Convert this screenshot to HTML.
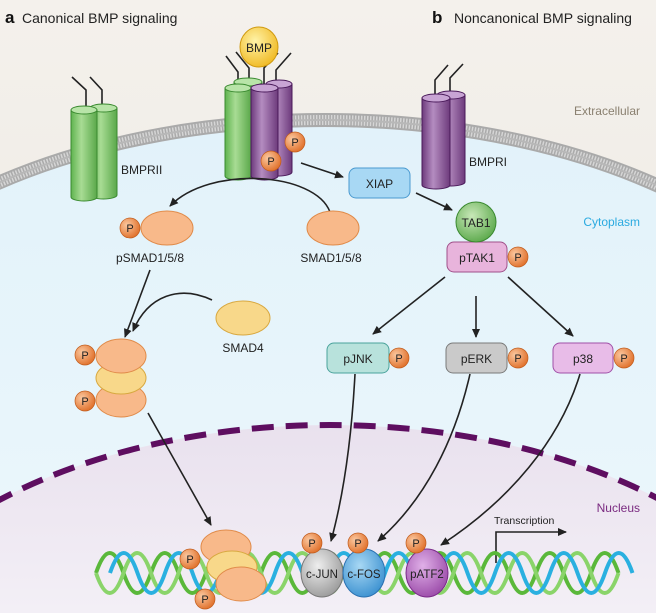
<!DOCTYPE html>
<html><head><meta charset="utf-8"><style>
html,body{margin:0;padding:0;background:#fff;width:656px;height:613px;overflow:hidden}
svg{display:block}
text{font-family:"Liberation Sans",sans-serif}
</style></head><body>
<svg width="656" height="613" viewBox="0 0 656 613" xmlns="http://www.w3.org/2000/svg">
<defs>
<clipPath id="cl"><rect width="656" height="613"/></clipPath>
<linearGradient id="bg" x1="0" y1="0" x2="0" y2="1"><stop offset="0" stop-color="#f4f1ec"/><stop offset="1" stop-color="#ebe6df"/></linearGradient>
<linearGradient id="cyto" x1="0" y1="0" x2="0" y2="1"><stop offset="0" stop-color="#e2f2fa"/><stop offset="1" stop-color="#eef8fc"/></linearGradient>
<linearGradient id="nuc" x1="0" y1="0" x2="0" y2="1"><stop offset="0" stop-color="#e9e1ee"/><stop offset=".55" stop-color="#fbfafc"/><stop offset="1" stop-color="#ffffff"/></linearGradient>
<linearGradient id="gc" x1="0" x2="1"><stop offset="0" stop-color="#5fb34f"/><stop offset=".4" stop-color="#a8dc94"/><stop offset="1" stop-color="#5aa84a"/></linearGradient>
<linearGradient id="pc" x1="0" x2="1"><stop offset="0" stop-color="#6d3a7c"/><stop offset=".4" stop-color="#b48cc0"/><stop offset="1" stop-color="#6d3a7c"/></linearGradient>
<radialGradient id="pp" cx=".35" cy=".35" r=".7"><stop offset="0" stop-color="#fbc8a0"/><stop offset="1" stop-color="#e0702a"/></radialGradient>
<radialGradient id="bmp" cx=".4" cy=".35" r=".7"><stop offset="0" stop-color="#fff3a8"/><stop offset="1" stop-color="#f0b820"/></radialGradient>
<radialGradient id="tab" cx=".4" cy=".35" r=".7"><stop offset="0" stop-color="#c8e8b8"/><stop offset="1" stop-color="#5aa84a"/></radialGradient>
<radialGradient id="gry" cx=".4" cy=".35" r=".7"><stop offset="0" stop-color="#eee"/><stop offset="1" stop-color="#999"/></radialGradient>
<radialGradient id="blu" cx=".4" cy=".35" r=".7"><stop offset="0" stop-color="#a8d8f4"/><stop offset="1" stop-color="#3a90d0"/></radialGradient>
<radialGradient id="pur" cx=".4" cy=".35" r=".7"><stop offset="0" stop-color="#e0b0e8"/><stop offset="1" stop-color="#9a4aa8"/></radialGradient>
<marker id="ar" markerWidth="10" markerHeight="10" refX="8" refY="5" orient="auto" markerUnits="userSpaceOnUse"><path d="M0,1 L9,5 L0,9 Z" fill="#222"/></marker>
</defs>
<g clip-path="url(#cl)">
<rect width="656" height="613" fill="url(#bg)"/>
<ellipse cx="325" cy="420" rx="533" ry="300" fill="url(#cyto)"/>
<ellipse cx="325" cy="420" rx="533" ry="300" fill="none" stroke="#aaa" stroke-width="14"/>
<ellipse cx="325" cy="420" rx="533" ry="300" fill="none" stroke="#d6d6d6" stroke-width="10" stroke-dasharray="1.5 1.5"/>
<ellipse cx="325" cy="420" rx="533" ry="300" fill="none" stroke="#b8b8b8" stroke-width="2"/>
<ellipse cx="330" cy="725" rx="500" ry="300" fill="url(#nuc)"/>
<ellipse cx="330" cy="725" rx="500" ry="300" fill="none" stroke="#5e0e60" stroke-width="6" stroke-dasharray="22 12"/>

<text x="5" y="23" font-size="17" font-weight="bold" fill="#111">a</text>
<text x="22" y="23" font-size="14" fill="#222">Canonical BMP signaling</text>
<text x="432" y="23" font-size="17" font-weight="bold" fill="#111">b</text>
<text x="454" y="23" font-size="14" fill="#222">Noncanonical BMP signaling</text>
<text x="640" y="115" font-size="12" fill="#8a8070" text-anchor="end">Extracellular</text>
<text x="640" y="226" font-size="12" fill="#2aaae0" text-anchor="end">Cytoplasm</text>
<text x="640" y="512" font-size="12" fill="#7a2a80" text-anchor="end">Nucleus</text>

<g fill="none" stroke="#222" stroke-width="1.6">
<path d="M86,108 V90 L72,77"/><path d="M102,108 V90 L90,77"/>
<path d="M238,88 V72 L226,56"/><path d="M249,82 V68 L236,52"/>
<path d="M264,88 V68 L278,53"/><path d="M276,85 V70 L291,53"/>
<path d="M435,97 V80 L448,65"/><path d="M450,93 V78 L463,64"/>
</g>
<g stroke="#3a8a30" stroke-width="1">
<path d="M90,108 V195 A13.5,4 0 0 0 117,195 V108 Z" fill="url(#gc)"/><ellipse cx="103.5" cy="108" rx="13.5" ry="4" fill="#b8e4a8"/>
<path d="M71,110 V197 A13,4 0 0 0 97,197 V110 Z" fill="url(#gc)"/><ellipse cx="84" cy="110" rx="13" ry="4" fill="#b8e4a8"/>
<path d="M234,82 V170 A14,4 0 0 0 262,170 V82 Z" fill="url(#gc)"/><ellipse cx="248" cy="82" rx="14" ry="4" fill="#b8e4a8"/>
<path d="M225,88 V176 A13,4 0 0 0 251,176 V88 Z" fill="url(#gc)"/><ellipse cx="238" cy="88" rx="13" ry="4" fill="#b8e4a8"/>
</g>
<g stroke="#4a1a5a" stroke-width="1">
<path d="M266,84 V172 A13,4 0 0 0 292,172 V84 Z" fill="url(#pc)"/><ellipse cx="279" cy="84" rx="13" ry="4" fill="#c8a4d4"/>
<path d="M251,88 V176 A13.5,4 0 0 0 278,176 V88 Z" fill="url(#pc)"/><ellipse cx="264.5" cy="88" rx="13.5" ry="4" fill="#c8a4d4"/>
<path d="M437,95 V182 A14,4 0 0 0 465,182 V95 Z" fill="url(#pc)"/><ellipse cx="451" cy="95" rx="14" ry="4" fill="#c8a4d4"/>
<path d="M422,98 V185 A14,4 0 0 0 450,185 V98 Z" fill="url(#pc)"/><ellipse cx="436" cy="98" rx="14" ry="4" fill="#c8a4d4"/>
</g>
<ellipse cx="259" cy="47" rx="19" ry="20" fill="url(#bmp)" stroke="#d09a10"/>
<text x="259" y="52" font-size="12" text-anchor="middle" fill="#222">BMP</text>
<text x="121" y="174" font-size="12" fill="#222">BMPRII</text>
<text x="469" y="166" font-size="12" fill="#222">BMPRI</text>

<g font-size="11" text-anchor="middle" fill="#222">
<circle cx="295" cy="142" r="10" fill="url(#pp)" stroke="#c05a1a" stroke-width=".7"/><text x="295" y="146">P</text>
<circle cx="271" cy="161" r="10" fill="url(#pp)" stroke="#c05a1a" stroke-width=".7"/><text x="271" y="165">P</text>
</g>

<rect x="349" y="168" width="61" height="30" rx="7" fill="#a8d8f4" stroke="#4a9ad0"/>
<text x="379.5" y="188" font-size="12" text-anchor="middle" fill="#222">XIAP</text>
<g stroke="#222" stroke-width="1.6" fill="none" marker-end="url(#ar)">
<path d="M301,163 L343,177"/>
<path d="M416,193 L452,210"/>
<path d="M330,212 C315,172 210,165 170,206"/>
<path d="M445,277 L373,334"/>
<path d="M476,296 L476,337"/>
<path d="M508,277 L573,336"/>
<path d="M212,300 C180,285 148,295 133,331"/>
<path d="M150,270 L125,337"/>
<path d="M148,413 L211,525"/>
<path d="M355,374 C352,430 345,490 331,541"/>
<path d="M470,374 C455,440 425,500 378,541"/>
<path d="M580,374 C560,440 510,500 441,545"/>
<path d="M496,563 V532 H566"/>
</g>
<text x="494" y="524" font-size="10.5" fill="#222">Transcription</text>

<rect x="447" y="242" width="60" height="30" rx="7" fill="#e8b4dc" stroke="#a0508a"/>
<text x="477" y="262" font-size="12" text-anchor="middle" fill="#222">pTAK1</text>
<ellipse cx="476" cy="222" rx="20" ry="20" fill="url(#tab)" stroke="#3a8a30"/>
<text x="476" y="227" font-size="12" text-anchor="middle" fill="#222">TAB1</text>

<rect x="327" y="343" width="62" height="30" rx="7" fill="#b8e2dc" stroke="#4aa39c"/>
<text x="358" y="363" font-size="12" text-anchor="middle" fill="#222">pJNK</text>
<rect x="446" y="343" width="61" height="30" rx="7" fill="#cacaca" stroke="#7a7a7a"/>
<text x="476.5" y="363" font-size="12" text-anchor="middle" fill="#222">pERK</text>
<rect x="553" y="343" width="60" height="30" rx="7" fill="#e8bce8" stroke="#a050a8"/>
<text x="583" y="363" font-size="12" text-anchor="middle" fill="#222">p38</text>

<g stroke="#e08a48" stroke-width="1">
<ellipse cx="167" cy="228" rx="26" ry="17" fill="#f8b98a"/>
<ellipse cx="333" cy="228" rx="26" ry="17" fill="#f8b98a"/>
<ellipse cx="243" cy="318" rx="27" ry="17" fill="#f8d88a" stroke="#d8a840"/>
<ellipse cx="121" cy="400" rx="25" ry="17" fill="#f8b98a"/>
<ellipse cx="121" cy="378" rx="25" ry="16" fill="#f8d88a" stroke="#d8a840"/>
<ellipse cx="121" cy="356" rx="25" ry="17" fill="#f8b98a"/>
</g>
<g font-size="12" text-anchor="middle" fill="#222">
<text x="150" y="262">pSMAD1/5/8</text>
<text x="331" y="262">SMAD1/5/8</text>
<text x="243" y="352">SMAD4</text>
</g>

<g fill="none" stroke-width="4">
<path stroke="#5ab83a" d="M96,573 q13.75,-40 27.5,0 t27.5,0 t27.5,0 t27.5,0 t27.5,0 t27.5,0 t27.5,0 t27.5,0 t27.5,0 t27.5,0 t27.5,0 t27.5,0 t27.5,0 t27.5,0 t27.5,0 t27.5,0 t27.5,0 t27.5,0 t27.5,0"/>
<path stroke="#8ad46a" d="M96,573 q13.75,40 27.5,0 t27.5,0 t27.5,0 t27.5,0 t27.5,0 t27.5,0 t27.5,0 t27.5,0 t27.5,0 t27.5,0 t27.5,0 t27.5,0 t27.5,0 t27.5,0 t27.5,0 t27.5,0 t27.5,0 t27.5,0 t27.5,0"/>
<path stroke="#2ab0e0" d="M110,573 q13.75,-40 27.5,0 t27.5,0 t27.5,0 t27.5,0 t27.5,0 t27.5,0 t27.5,0 t27.5,0 t27.5,0 t27.5,0 t27.5,0 t27.5,0 t27.5,0 t27.5,0 t27.5,0 t27.5,0 t27.5,0 t27.5,0 t27.5,0"/>
</g>
<g stroke="#e08a48" stroke-width="1">
<ellipse cx="226" cy="547" rx="25" ry="17" fill="#f8b98a"/>
<ellipse cx="232" cy="567" rx="25" ry="16" fill="#f8d88a" stroke="#d8a840"/>
<ellipse cx="241" cy="584" rx="25" ry="17" fill="#f8b98a"/>
</g>
<ellipse cx="322" cy="573" rx="21" ry="24" fill="url(#gry)" stroke="#777"/>
<ellipse cx="364" cy="573" rx="21" ry="24" fill="url(#blu)" stroke="#2a70b0"/>
<ellipse cx="427" cy="573" rx="21" ry="24" fill="url(#pur)" stroke="#7a2a88"/>
<g font-size="11.5" text-anchor="middle" fill="#222">
<text x="322" y="578">c-JUN</text><text x="364" y="578">c-FOS</text><text x="427" y="578">pATF2</text>
</g>

<g font-size="11" text-anchor="middle" fill="#222">
<circle cx="130" cy="228" r="10" fill="url(#pp)" stroke="#c05a1a" stroke-width=".7"/><text x="130" y="232">P</text>
<circle cx="518" cy="257" r="10" fill="url(#pp)" stroke="#c05a1a" stroke-width=".7"/><text x="518" y="261">P</text>
<circle cx="399" cy="358" r="10" fill="url(#pp)" stroke="#c05a1a" stroke-width=".7"/><text x="399" y="362">P</text>
<circle cx="518" cy="358" r="10" fill="url(#pp)" stroke="#c05a1a" stroke-width=".7"/><text x="518" y="362">P</text>
<circle cx="624" cy="358" r="10" fill="url(#pp)" stroke="#c05a1a" stroke-width=".7"/><text x="624" y="362">P</text>
<circle cx="85" cy="355" r="10" fill="url(#pp)" stroke="#c05a1a" stroke-width=".7"/><text x="85" y="359">P</text>
<circle cx="85" cy="401" r="10" fill="url(#pp)" stroke="#c05a1a" stroke-width=".7"/><text x="85" y="405">P</text>
<circle cx="190" cy="559" r="10" fill="url(#pp)" stroke="#c05a1a" stroke-width=".7"/><text x="190" y="563">P</text>
<circle cx="205" cy="599" r="10" fill="url(#pp)" stroke="#c05a1a" stroke-width=".7"/><text x="205" y="603">P</text>
<circle cx="312" cy="543" r="10" fill="url(#pp)" stroke="#c05a1a" stroke-width=".7"/><text x="312" y="547">P</text>
<circle cx="358" cy="543" r="10" fill="url(#pp)" stroke="#c05a1a" stroke-width=".7"/><text x="358" y="547">P</text>
<circle cx="416" cy="543" r="10" fill="url(#pp)" stroke="#c05a1a" stroke-width=".7"/><text x="416" y="547">P</text>
</g>
</g>
</svg>
</body></html>
